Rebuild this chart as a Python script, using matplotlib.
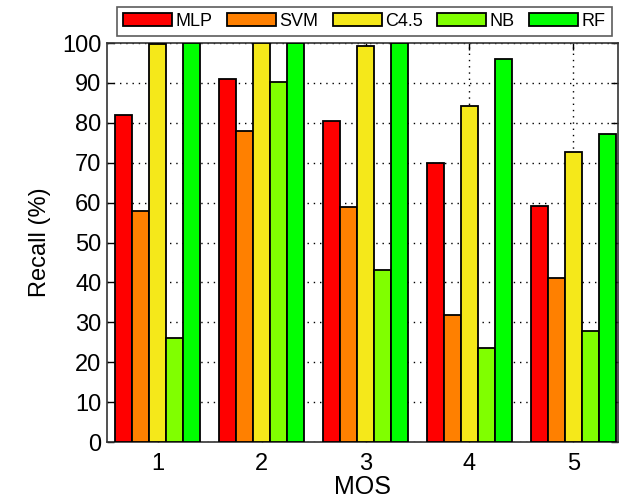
import numpy as np
import matplotlib

matplotlib.use('Agg')
import matplotlib.pyplot as plt

plt.rcParams['font.family'] = ['Liberation Sans', 'DejaVu Sans']

groups = ['1', '2', '3', '4', '5']
methods = ['MLP', 'SVM', 'C4.5', 'NB', 'RF']
colors = ['#ff0000', '#ff8000', '#f5e81a', '#80ff00', '#00ff00']

mlp = [82.0, 91.0, 80.5, 70.0, 59.2]
svm = [58.0, 78.0, 58.8, 31.8, 41.0]
c45 = [99.7, 100.0, 99.3, 84.1, 72.6]
nb = [26.0, 90.2, 43.2, 23.6, 27.7]
rf = [100.0, 100.0, 100.0, 95.9, 77.1]
series = [mlp, svm, c45, nb, rf]

fig = plt.figure(figsize=(6.31, 4.99), dpi=100)
ax = fig.add_axes([0.1696, 0.1142, 0.8098, 0.7996])

x = np.arange(1, len(groups) + 1)
width = 0.164
handles = []
for i, (vals, col, name) in enumerate(zip(series, colors, methods)):
    offset = (i - 2) * width
    h = ax.bar(x + offset, vals, width, color=col, edgecolor='black',
               linewidth=1.3, label=name, zorder=3)
    handles.append(h)

ax.set_xlim(0.51, 5.43)
ax.set_ylim(0, 100)
ax.set_xticks(x)
ax.set_xticklabels(groups)
ax.set_yticks(np.arange(0, 101, 10))
ax.tick_params(direction='in', length=5, width=1, labelsize=17,
               top=True, right=True, pad=4)
ax.tick_params(axis='x', pad=8)
ax.grid(True, color='black', linestyle=(0, (1, 3.5)), linewidth=1.0, zorder=0)
ax.set_axisbelow(True)
for s in ax.spines.values():
    s.set_linewidth(1.2)
    s.set_color('#333333')

ax.set_xlabel('MOS', fontsize=18, labelpad=0)
ax.set_ylabel('Recall (%)', fontsize=17, labelpad=8)

leg = fig.legend(handles=handles, labels=methods, loc='center',
                 bbox_to_anchor=(0.5777, 0.957), ncol=5, fontsize=13,
                 frameon=True, fancybox=False, handlelength=2.7,
                 handleheight=0.78, handletextpad=0.2, columnspacing=0.8,
                 borderpad=0.35, borderaxespad=0)
leg.get_frame().set_edgecolor('#333333')
leg.get_frame().set_linewidth(1.2)

fig.savefig('out.png', dpi=100, facecolor='white')
